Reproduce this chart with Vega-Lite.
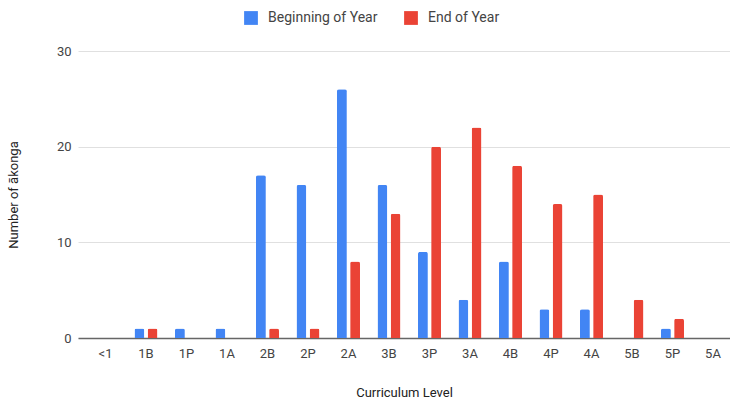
{
  "$schema": "https://vega.github.io/schema/vega-lite/v6.json",
  "autosize": "none",
  "width": 652,
  "height": 287,
  "padding": {"left": 78, "top": 51, "right": 0, "bottom": 63},
  "background": "white",
  "config": {
    "view": {"stroke": null},
    "font": "Roboto",
    "axis": {"labelFont": "Roboto", "titleFont": "Roboto", "labelColor": "#444", "titleColor": "#222", "titleFontWeight": "normal", "labelFontSize": 13, "titleFontSize": 13}
  },
  "data": {
    "values": [
      {"level": "<1", "series": "Beginning of Year", "count": 0},
      {"level": "1B", "series": "Beginning of Year", "count": 1},
      {"level": "1P", "series": "Beginning of Year", "count": 1},
      {"level": "1A", "series": "Beginning of Year", "count": 1},
      {"level": "2B", "series": "Beginning of Year", "count": 17},
      {"level": "2P", "series": "Beginning of Year", "count": 16},
      {"level": "2A", "series": "Beginning of Year", "count": 26},
      {"level": "3B", "series": "Beginning of Year", "count": 16},
      {"level": "3P", "series": "Beginning of Year", "count": 9},
      {"level": "3A", "series": "Beginning of Year", "count": 4},
      {"level": "4B", "series": "Beginning of Year", "count": 8},
      {"level": "4P", "series": "Beginning of Year", "count": 3},
      {"level": "4A", "series": "Beginning of Year", "count": 3},
      {"level": "5B", "series": "Beginning of Year", "count": 0},
      {"level": "5P", "series": "Beginning of Year", "count": 1},
      {"level": "5A", "series": "Beginning of Year", "count": 0},
      {"level": "<1", "series": "End of Year", "count": 0},
      {"level": "1B", "series": "End of Year", "count": 1},
      {"level": "1P", "series": "End of Year", "count": 0},
      {"level": "1A", "series": "End of Year", "count": 0},
      {"level": "2B", "series": "End of Year", "count": 1},
      {"level": "2P", "series": "End of Year", "count": 1},
      {"level": "2A", "series": "End of Year", "count": 8},
      {"level": "3B", "series": "End of Year", "count": 13},
      {"level": "3P", "series": "End of Year", "count": 20},
      {"level": "3A", "series": "End of Year", "count": 22},
      {"level": "4B", "series": "End of Year", "count": 18},
      {"level": "4P", "series": "End of Year", "count": 14},
      {"level": "4A", "series": "End of Year", "count": 15},
      {"level": "5B", "series": "End of Year", "count": 4},
      {"level": "5P", "series": "End of Year", "count": 2},
      {"level": "5A", "series": "End of Year", "count": 0}
    ]
  },
  "mark": {"type": "bar", "cornerRadiusTopLeft": 2, "cornerRadiusTopRight": 2},
  "encoding": {
    "x": {
      "field": "level",
      "type": "nominal",
      "sort": null,
      "scale": {"paddingInner": 0.432, "paddingOuter": 0.2654, "align": 0.744},
      "axis": {"title": "Curriculum Level", "labelAngle": 0, "ticks": false, "labelPadding": 9, "domainColor": "#666", "domainWidth": 1.5, "titlePadding": 26}
    },
    "xOffset": {
      "field": "series",
      "type": "nominal",
      "scale": {"domain": ["Beginning of Year", "End of Year"], "paddingInner": 0.25, "paddingOuter": 0}
    },
    "y": {
      "field": "count",
      "type": "quantitative",
      "scale": {"domain": [0, 30], "nice": false},
      "axis": {"title": "Number of ākonga", "values": [0, 10, 20, 30], "domain": false, "ticks": false, "gridColor": "#e0e0e0", "labelPadding": 7, "titlePadding": 36}
    },
    "color": {
      "field": "series",
      "type": "nominal",
      "scale": {"domain": ["Beginning of Year", "End of Year"], "range": ["#4285F4", "#EA4335"]},
      "legend": {
        "title": null,
        "orient": "none",
        "direction": "horizontal",
        "legendX": 166,
        "legendY": -40,
        "symbolType": "square",
        "symbolSize": 190,
        "symbolStrokeWidth": 0,
        "labelFont": "Roboto",
        "labelFontSize": 14,
        "labelColor": "#444",
        "labelOffset": 10,
        "columnPadding": 26,
        "labelLimit": 300
      }
    }
  }
}
